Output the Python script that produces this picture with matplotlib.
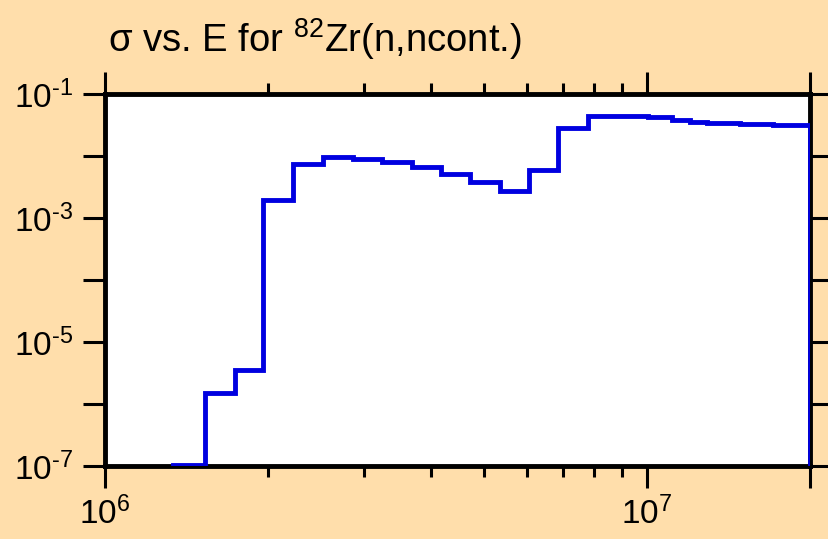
import math
import matplotlib
matplotlib.use('Agg')
from matplotlib import pyplot as plt
from matplotlib import ticker

# Group edges (eV) and cross sections (b) of the continuum inelastic channel
energy_edges = [1.335e6, 1.529e6, 1.738e6, 1.957e6, 2.223e6, 2.525e6,
                2.869e6, 3.244e6, 3.686e6, 4.168e6, 4.714e6, 5.355e6,
                6.057e6, 6.851e6, 7.784e6, 8.842e6, 1.004e7, 1.112e7,
                1.200e7, 1.291e7, 1.485e7, 1.596e7, 1.708e7, 2.0e7]
sigma = [1.04e-7, 1.5e-6, 3.5e-6, 1.95e-3, 7.4e-3, 9.5e-3, 8.9e-3, 8.0e-3,
         6.6e-3, 5.1e-3, 3.8e-3, 2.75e-3, 5.9e-3, 2.8e-2, 4.4e-2, 4.35e-2,
         4.2e-2, 3.77e-2, 3.53e-2, 3.4e-2, 3.32e-2, 3.25e-2, 3.13e-2]

x_limits = (1e6, 2e7)
y_limits = (1e-7, 1e-1)
x_major = [1e6, 1e7, 2e7]
x_minor = [2e6, 3e6, 4e6, 5e6, 6e6, 7e6, 8e6, 9e6]
y_major = [1e-7, 1e-6, 1e-5, 1e-4, 1e-3, 1e-2, 1e-1]

title_text = r'$\sigma$ vs. E for $^{82}$Zr(n,ncont.)'

plt.rcParams['font.family'] = ['Liberation Sans', 'DejaVu Sans']
plt.rcParams['mathtext.fontset'] = 'custom'
plt.rcParams['mathtext.rm'] = 'Liberation Sans'
plt.rcParams['mathtext.it'] = 'Liberation Sans'
plt.rcParams['mathtext.default'] = 'regular'

bg = '#FFDEAB'
fig = plt.figure(figsize=(8.29, 5.39), dpi=100, facecolor=bg)
ax = fig.add_axes([0.1267, 0.1354, 0.977 - 0.1267, 0.8256 - 0.1354])
ax.set_facecolor('white')

# Step histogram, dropping to the baseline at the upper energy limit
ax.stairs(sigma, energy_edges, baseline=1e-9, color='#0000E0',
          linewidth=3.5, zorder=3)

ax.set_xscale('log')
ax.set_yscale('log')
ax.set_xlim(*x_limits)
ax.set_ylim(*y_limits)

ax.xaxis.set_major_locator(ticker.FixedLocator(x_major))
ax.xaxis.set_minor_locator(ticker.FixedLocator(x_minor))
ax.yaxis.set_major_locator(ticker.FixedLocator(y_major))
ax.yaxis.set_minor_locator(ticker.NullLocator())


def x_fmt(v, pos):
  # only whole decades get a label
  e = math.log10(v)
  if abs(e - round(e)) < 1e-6:
    return r'$10^{%d}$' % round(e)
  return ''


def y_fmt(v, pos):
  # label every other decade, with a plain hyphen in the exponent
  e = round(math.log10(v))
  if e % 2:
    return r'$10^{\text{-%d}}$' % -e
  return ''


ax.xaxis.set_major_formatter(ticker.FuncFormatter(x_fmt))
ax.yaxis.set_major_formatter(ticker.FuncFormatter(y_fmt))

ax.tick_params(which='both', direction='out', top=True, right=True,
               width=2.2, color='black', labelsize=24)
ax.tick_params(which='major', length=16, pad=6)
ax.tick_params(which='minor', length=8)
ax.tick_params(axis='y', pad=7)

for spine in ax.spines.values():
  spine.set_linewidth(3.5)

fig.text(0.130, 0.9035, title_text, fontsize=27.5, ha='left', va='baseline')

plt.savefig('out.png', dpi=100, facecolor=bg)
